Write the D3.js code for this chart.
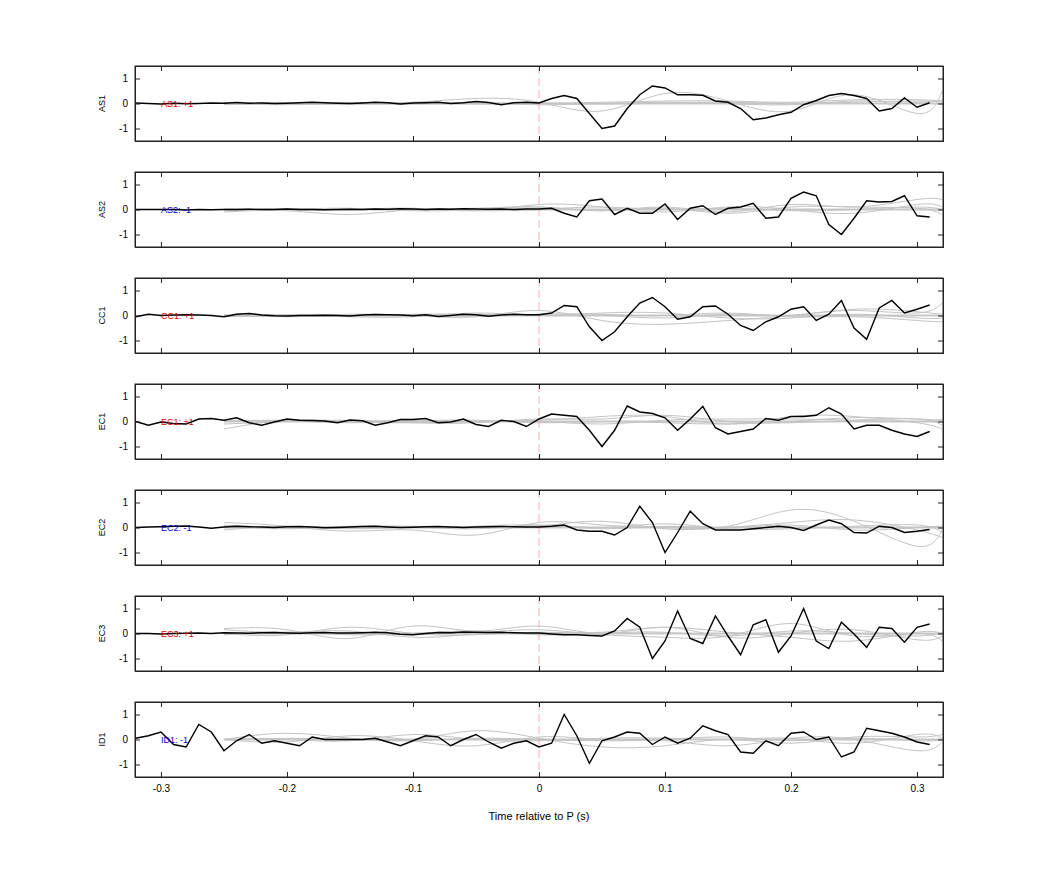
<!DOCTYPE html><html><head><meta charset="utf-8"><script src="https://cdn.jsdelivr.net/npm/d3@7"></script>
<style>body{margin:0;background:#fff}svg{font-family:"Liberation Sans",Arial,sans-serif}</style></head><body><svg id="c" width="1042" height="875"></svg><script>
const channels=["AS1","AS2","CC1","EC1","EC2","EC3","ID1"];
const polarity=["+1","-1","+1","+1","-1","+1","-1"];
const times=d3.range(64).map(i=>Math.round((-0.32+i*0.01)*100)/100);
const blackAS1=[0.02,0,-0.02,0.01,-0.01,0,0.02,0.01,0.04,0.01,0.02,0,0.01,0.03,0.05,0.03,0.01,0.0,0.02,0.05,0.03,-0.02,0.02,0.03,0.05,0.0,0.03,0.08,0.04,-0.05,0.03,0.05,0.02, 0.2,0.32,0.2,-0.4,-1.0,-0.9,-0.2,0.35,0.7,0.62,0.35,0.35,0.33,0.1,0.05,-0.2,-0.65,-0.58,-0.45,-0.35,-0.05,0.12,0.32,0.4,0.32,0.2,-0.3,-0.2,0.22,-0.15,0.03];
const blackAS2=[0,0,0,0,-0.02,0,-0.01,0,0,0.01,0,0,0.02,0,0,-0.01,0,0.01,0,0.02,0.01,0.03,0.02,0,0.02,0.01,0.03,0.02,0.01,0.02,0,0.02,0.02, 0.05,-0.15,-0.3,0.35,0.42,-0.2,0.05,-0.15,-0.15,0.22,-0.4,0.05,0.15,-0.2,0.05,0.1,0.25,-0.35,-0.3,0.45,0.7,0.55,-0.6,-1.0,-0.35,0.35,0.3,0.32,0.55,-0.25,-0.3];
const blackCC1=[-0.05,0.05,0,0.02,0.03,0.02,0,-0.05,0.05,0.08,0.02,-0.01,-0.02,0.0,0.0,0.01,0,-0.02,0.02,0.04,0.03,0.02,-0.01,0.03,-0.04,0,0.05,0.03,-0.03,0.02,0.05,0.03,0.03, 0.1,0.4,0.35,-0.45,-1.0,-0.65,-0.05,0.5,0.72,0.35,-0.15,-0.05,0.35,0.38,0.05,-0.4,-0.6,-0.25,-0.05,0.25,0.35,-0.2,0.05,0.6,-0.5,-0.95,0.3,0.6,0.1,0.25,0.42];
const blackEC1=[0,-0.15,-0.02,-0.08,-0.1,0.1,0.12,0.05,0.15,-0.05,-0.15,-0.02,0.1,0.05,0.04,0.02,-0.05,0.06,0.03,-0.15,-0.05,0.08,0.08,0.12,-0.05,-0.02,0.1,-0.12,-0.2,0.05,0.0,-0.2,0.1, 0.3,0.25,0.2,-0.35,-1.0,-0.35,0.62,0.38,0.32,0.15,-0.35,0.1,0.6,-0.25,-0.5,-0.4,-0.3,0.12,0.05,0.2,0.2,0.25,0.55,0.3,-0.3,-0.15,-0.15,-0.35,-0.5,-0.6,-0.4];
const blackEC2=[0,0.02,0.03,0.05,0.06,0.02,-0.03,0.02,0.05,0.03,0.02,0,0.03,0.04,0.02,-0.01,0,0.02,0.04,0.05,0.02,0.0,0.01,0.03,0.04,0.02,0,0.02,0.03,0.04,0.03,0.02,0.02, 0.05,0.1,-0.1,-0.15,-0.15,-0.3,0.0,0.85,0.2,-1.0,-0.2,0.65,0.15,-0.1,-0.1,-0.1,-0.05,0.0,0.05,0.0,-0.12,0.1,0.3,0.15,-0.2,-0.22,0.05,0.0,-0.2,-0.15,-0.08];
const blackEC3=[0,0,-0.02,0,0.01,0.02,0,0.03,0.02,0.01,0.03,0.04,0.02,0.01,0.03,0.04,0.02,0.02,0.03,0.05,0.03,-0.03,-0.05,0.0,0.04,0.03,0.06,0.05,0.04,0.05,0.03,0.02,0.02, -0.02,-0.05,-0.05,-0.08,-0.1,0.1,0.6,0.25,-1.0,-0.3,0.9,-0.2,-0.4,0.7,-0.1,-0.85,0.35,0.55,-0.75,-0.1,1.0,-0.3,-0.6,0.45,-0.02,-0.55,0.25,0.2,-0.35,0.25,0.38];
const blackID1=[0.05,0.15,0.3,-0.2,-0.3,0.6,0.3,-0.45,-0.05,0.2,-0.15,-0.05,-0.15,-0.25,0.1,0.0,0.0,0.0,0.0,0.05,-0.1,-0.25,-0.05,0.15,0.1,-0.25,0.0,0.2,-0.1,-0.35,-0.15,-0.05,-0.3, -0.15,1.0,0.15,-0.95,-0.05,0.1,0.3,0.25,-0.2,0.1,-0.15,0.05,0.55,0.35,0.2,-0.5,-0.55,-0.05,-0.25,0.25,0.3,0.0,0.1,-0.7,-0.5,0.45,0.35,0.25,0.1,-0.1,-0.2];
const blacks=[blackAS1,blackAS2,blackCC1,blackEC1,blackEC2,blackEC3,blackID1];
const grayTimes=[-0.25,-0.2,-0.15,-0.1,-0.05,0,0.05,0.1,0.15,0.2,0.25,0.3,0.32];
const grayAS1=[[0,-0.05,0,0.05,0.2,0.05,-0.3,0.4,0.1,-0.3,0.35,-0.4,0.5],[0,0.02,-0.03,0,0.02,0,0.05,0.1,0.1,0.05,0.15,0.15,0.1],[-0.05,0,0.03,-0.02,0,-0.05,0,0.05,0.0,-0.05,0.1,0.05,0.15],[0.02,-0.02,0,0.03,-0.02,0.02,-0.02,0.02,0.05,0,0.05,0.1,0.05]];
const grayAS2=[[-0.1,-0.05,-0.2,0.0,0.05,0.1,-0.05,0.1,-0.1,0.2,0.1,0.4,0.4],[0,0.02,0,0.05,-0.05,0.2,0.1,-0.1,0.1,0.0,-0.15,0.2,0.1],[-0.05,0,0.05,-0.05,0.0,0.1,-0.05,0.05,-0.15,0.1,0.1,0.05,-0.2],[0.02,-0.03,0,0.02,-0.05,0,0.1,0.0,0.05,-0.05,0.0,0.1,0.0]];
const grayCC1=[[-0.05,0,0.05,0,-0.05,0.2,-0.2,-0.35,-0.2,0.0,0.2,0.1,0.5],[0,-0.05,0,0.05,0.05,0,0.1,0.1,-0.1,-0.1,0.05,-0.1,-0.1],[0.02,0,-0.05,-0.05,0.1,0,0.0,-0.1,0.05,0.0,0.25,0.15,0.05],[-0.03,0.03,0,0.02,-0.02,0.05,0.05,0.0,0.1,-0.05,-0.05,-0.2,-0.25]];
const grayEC1=[[-0.3,0.05,0.0,-0.05,0.0,0.05,0.2,0.2,-0.1,0.2,0.2,-0.05,-0.3],[-0.1,0.0,0.05,-0.05,-0.05,0.1,0.1,0.25,0.0,-0.05,0.05,0.1,-0.15],[0.0,0.05,0.0,0.05,0.0,0.0,-0.1,0.05,0.1,0.1,0.05,0.0,0.1],[0.05,0.02,-0.05,0.02,0.05,-0.05,0.0,-0.05,-0.1,0.0,0.15,0.1,0.05]];
const grayEC2=[[0.2,0.05,-0.15,-0.1,-0.3,0.2,0.1,0.0,0.05,0.7,0.25,-0.75,-0.1],[0.1,0.0,0.05,0.05,0.0,0.05,0.25,-0.05,0.0,0.2,0.3,-0.1,-0.4],[-0.1,0.05,-0.05,0.0,-0.05,0.1,0.0,0.15,-0.05,-0.05,0.05,0.1,-0.2],[0.05,-0.05,0.02,0.0,0.05,0.1,-0.05,0.05,0.0,0.1,-0.1,0.0,0.05]];
const grayEC3=[[0.2,0.15,-0.2,0.3,0.1,0.3,0.0,0.25,-0.15,0.0,0.15,-0.25,-0.1],[0.15,0.05,0.1,-0.15,0.0,0.15,-0.05,-0.15,-0.1,0.4,-0.1,0.0,-0.3],[0.0,-0.05,0.25,0.0,-0.05,0.05,0.05,0.25,0.05,-0.15,-0.3,0.05,0.0],[-0.05,0.05,-0.05,0.0,0.1,-0.05,0.0,0.05,-0.1,0.1,0.0,-0.1,0.05]];
const grayID1=[[0,0.25,0.05,0.0,0.35,0.05,-0.3,-0.25,0.0,-0.15,0.1,0.1,0.2],[0,-0.1,0.15,-0.05,-0.25,0.1,0.0,-0.05,-0.25,0.05,0.0,-0.45,-0.1],[0,0.0,-0.05,0.2,0.0,-0.05,0.05,0.05,0.0,0.05,-0.15,0.2,0.05],[0,0.05,0.0,-0.05,0.05,0.0,-0.05,0.0,0.1,-0.05,0.05,-0.05,0.0]];
const grays=[grayAS1,grayAS2,grayCC1,grayEC1,grayEC2,grayEC3,grayID1];
const xTicks=[-0.3,-0.2,-0.1,0,0.1,0.2,0.3];
const yTicks=[-1,0,1];

const svg=d3.select("#c");
const L=135,R=943,H=75,tops=[66,172,278,384,490,596,702];
const x=d3.scaleLinear().domain([-0.3206,0.3206]).range([L,R]);
const fmt=d=>d===0?"0":String(d);
channels.forEach((ch,i)=>{
  const t=tops[i];
  const y=d3.scaleLinear().domain([-1.5,1.5]).range([t+H,t]);
  const g=svg.append("g");
  const clip="cl"+i;
  svg.append("clipPath").attr("id",clip).append("rect").attr("x",L).attr("y",t).attr("width",R-L).attr("height",H);
  const pg=g.append("g").attr("clip-path",`url(#${clip})`);
  pg.append("line").attr("x1",x(-0.25)).attr("x2",R).attr("y1",y(0)).attr("y2",y(0)).attr("stroke","#c8c8c8").attr("stroke-width",2);
  const gl=d3.line().x((d,j)=>x(grayTimes[j])).y(d=>y(d)).curve(d3.curveNatural);
  grays[i].forEach(s=>pg.append("path").attr("d",gl(s)).attr("fill","none").attr("stroke","#c4c4c4").attr("stroke-width",1));
  pg.append("line").attr("x1",x(0)).attr("x2",x(0)).attr("y1",t).attr("y2",t+H).attr("stroke","#e8a0a0").attr("stroke-dasharray","8,4").attr("stroke-width",0.8);
  const bl=d3.line().x((d,j)=>x(times[j])).y(d=>y(d));
  pg.append("path").attr("d",bl(blacks[i])).attr("fill","none").attr("stroke","#000").attr("stroke-width",1.4);
  g.append("text").attr("x",x(-0.3)).attr("y",y(0)+3).attr("font-size",9).attr("fill",polarity[i]==="+1"?"#d00":"#00c").text(ch+": "+polarity[i]);
  const ax=d3.axisBottom(x).tickValues(xTicks).tickSize(-5).tickFormat(i===6?fmt:"");
  const axb=g.append("g").attr("transform",`translate(0,${t+H})`).call(ax);
  axb.selectAll("text").attr("dy","1.2em").attr("font-size",10);
  g.append("g").attr("transform",`translate(0,${t})`).call(d3.axisTop(x).tickValues(xTicks).tickSize(-5).tickFormat(""));
  const ay=g.append("g").attr("transform",`translate(${L},0)`).call(d3.axisLeft(y).tickValues(yTicks).tickSize(-5).tickFormat(fmt));
  ay.selectAll("text").attr("font-size",10).attr("dx","-0.4em");
  g.append("g").attr("transform",`translate(${R},0)`).call(d3.axisRight(y).tickValues(yTicks).tickSize(-5).tickFormat(""));
  g.selectAll(".domain").attr("stroke","#222");
  g.selectAll(".tick line").attr("stroke","#222");
  g.append("rect").attr("x",L).attr("y",t).attr("width",R-L).attr("height",H).attr("fill","none").attr("stroke","#222");
  g.append("text").attr("transform",`translate(105,${t+H/2}) rotate(-90)`).attr("text-anchor","middle").attr("font-size",9).text(ch);
});
svg.append("text").attr("x",x(0)).attr("y",820).attr("text-anchor","middle").attr("font-size",11).text("Time relative to P (s)");
</script></body></html>
